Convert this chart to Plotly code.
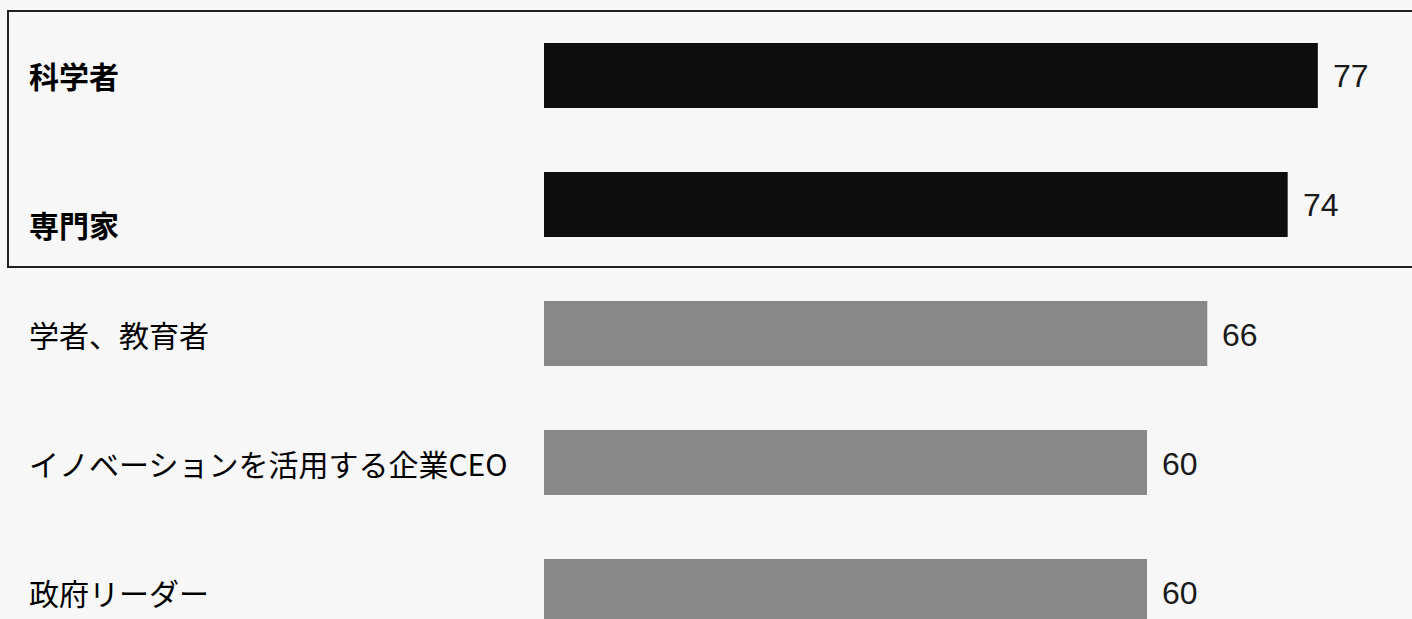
import plotly.graph_objects as go

categories = ["科学者", "専門家", "学者、教育者", "イノベーションを活用する企業CEO", "政府リーダー"]
values = [77, 74, 66, 60, 60]
highlight = [True, True, False, False, False]
value_labels = ["77", "74", "66", "60", "60"]

BLACK = "#0d0d0d"
GRAY = "#888888"
BG = "#f7f7f7"

colors = [BLACK if h else GRAY for h in highlight]

fig = go.Figure()
fig.add_trace(go.Bar(
    x=values,
    y=categories,
    orientation="h",
    marker=dict(color=colors, line=dict(width=0)),
    width=0.504,
    hoverinfo="skip",
))

annotations = []
for i, (cat, val, lab, h) in enumerate(zip(categories, values, value_labels, highlight)):
    # category label on the left
    annotations.append(dict(
        x=27 / 1412, xref="paper", y=cat, yref="y",
        text=f"<b>{cat}</b>" if h else cat,
        showarrow=False, xanchor="left", yanchor="middle",
        yshift=-20 if i == 1 else 0,
        font=dict(family="Noto Sans CJK JP", size=30, color="#000000"),
    ))
    # value label to the right of the bar
    annotations.append(dict(
        x=val, xref="x", y=cat, yref="y",
        text=lab, showarrow=False, xanchor="left", yanchor="middle",
        xshift=13, yshift=-1,
        font=dict(family="Liberation Sans, Arial", size=32, color="#1a1a1a"),
    ))

fig.update_layout(
    width=1412, height=619,
    margin=dict(l=0, r=0, t=0, b=0),
    paper_bgcolor=BG, plot_bgcolor=BG,
    showlegend=False,
    xaxis=dict(range=[-54.13, 86.37], visible=False, fixedrange=True),
    yaxis=dict(
        type="category", categoryorder="array", categoryarray=categories,
        range=[4.213, -0.585], visible=False, fixedrange=True,
    ),
    annotations=annotations,
    shapes=[dict(
        type="rect", xref="paper", yref="y",
        x0=8 / 1412, x1=1.01, y0=-0.5, y1=1.485,
        line=dict(color="#222222", width=2),
        fillcolor="rgba(0,0,0,0)", layer="above",
    )],
)

fig.write_html(
    "out.html",
    config={"displayModeBar": False},
    post_script="document.body.style.margin='0';document.body.style.background='#f7f7f7';document.body.style.overflow='hidden';",
)
